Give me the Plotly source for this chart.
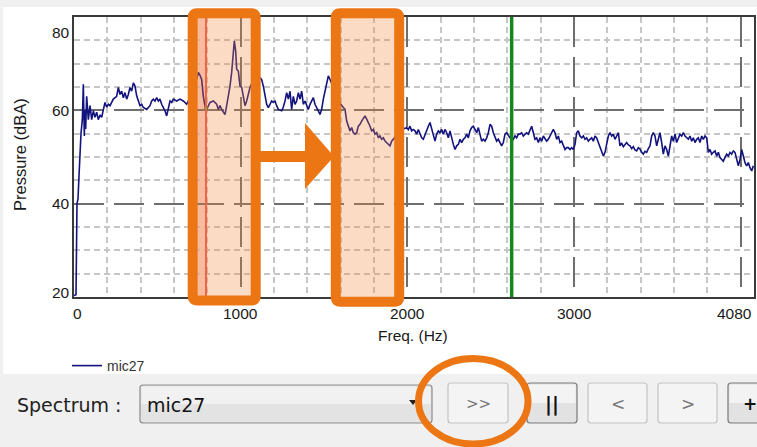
import numpy as np
import plotly.graph_objects as go

# ---------------- spectrum data (mic27) ----------------
freq_hz = [
    0, 12, 18, 24, 30, 36, 42, 50, 56, 62,
    66, 70, 76, 86, 96, 106, 116, 126, 136, 146,
    156, 166, 176, 186, 196, 206, 216, 226, 236, 256,
    266, 276, 286, 296, 306, 316, 326, 336, 346, 356,
    366, 376, 386, 396, 406, 416, 436, 456, 466, 476,
    486, 496, 506, 516, 526, 536, 546, 556, 566, 576,
    586, 596, 616, 636, 656, 676, 686, 706, 726, 746,
    756, 766, 776, 786, 796, 816, 836, 856, 866, 876,
    886, 906, 916, 926, 936, 946, 956, 962, 970, 976,
    986, 996, 1006, 1016, 1026, 1036, 1046, 1056, 1076, 1096,
    1116, 1126, 1136, 1146, 1156, 1166, 1176, 1186, 1196, 1206,
    1216, 1226, 1246, 1256, 1266, 1276, 1286, 1296, 1306, 1316,
    1326, 1336, 1346, 1356, 1366, 1376, 1386, 1396, 1406, 1416,
    1426, 1436, 1446, 1456, 1466, 1476, 1486, 1496, 1506, 1516,
    1526, 1536, 1556, 1576, 1596, 1616, 1626, 1636, 1646, 1656,
    1666, 1676, 1686, 1696, 1706, 1716, 1726, 1736, 1746, 1756,
    1766, 1776, 1786, 1796, 1806, 1816, 1826, 1836, 1846, 1856,
    1866, 1876, 1886, 1896, 1906, 1916, 1936, 1956, 1976, 1996,
] + list(range(2006, 4077, 10))  # regular 10 Hz bins above 2 kHz

level_dba = [
    20.3, 20.5, 40, 41, 46, 51, 55, 58, 65.6, 54.5,
    60, 56, 63, 58, 61, 58, 59.9, 58.5, 59.6, 58,
    59, 58.5, 60.2, 61.7, 60.7, 61.3, 61, 61.7, 62.4, 63,
    64.9, 63.4, 64.1, 62.7, 63.8, 62.4, 63.4, 64.9, 64.1, 65.9,
    65.2, 63.1, 62, 61, 61.3, 60.6, 60.2, 61, 62, 62.4,
    62, 62.7, 62, 62.4, 61.3, 60.7, 59.9, 58.8, 60.2, 62,
    61.7, 62.4, 62, 62.4, 62, 61.3, 62, 63, 65.5, 68.1,
    67.5, 66.6, 63, 61, 60.2, 61.7, 62, 61.3, 60.2, 61,
    60.2, 59.1, 61, 63, 65.2, 68.1, 73.1, 74.9, 72.7, 68.8,
    68.4, 65.2, 64.9, 62.4, 61, 62, 63.4, 64.9, 66.5, 65,
    67, 66.6, 65.2, 63, 61.3, 60.6, 61.3, 62, 61.7, 62,
    61, 60.2, 59.9, 60.7, 62, 63.8, 62.4, 64.1, 60.2, 63,
    61.3, 62, 63.8, 62.4, 64.1, 61.3, 62, 61, 60.2, 61.3,
    62, 62.7, 61.3, 60.7, 59.9, 59.1, 60.2, 62.4, 64.1, 65.9,
    67.4, 66.6, 65, 63, 61.5, 60.6, 60.2, 57.7, 56.6, 55.6,
    56.3, 55.2, 54.9, 55.2, 56.6, 57, 57.7, 58.4, 58.8, 58.1,
    57.4, 56.6, 55.6, 55.9, 54.9, 55.2, 54.1, 54.5, 53.8, 54.1,
    53.4, 53.1, 52.7, 52.4, 53.4, 53.8, 54.5, 55.5, 56, 56.3,
    55.9, 56.6, 55.6, 55.9, 55.6, 54.9, 55.9, 54.9, 54.1, 53.8,
    54.9, 55.9, 56.6, 57.4, 55.9, 54.5, 53.4, 54.9, 55.6, 55.2,
    55.9, 54.9, 55.9, 55.2, 54.1, 55.6, 53.8, 52.7, 51.6, 52.4,
    52.7, 53.8, 53.1, 53.8, 54.1, 54.9, 54.1, 55.6, 56.3, 56.6,
    55.9, 55.2, 56.3, 54.5, 53.4, 53.8, 53.4, 54.1, 55.2, 57,
    56.6, 55.2, 54.1, 53.4, 53.8, 53.1, 52.4, 53.1, 54.9, 55.2,
    54.5, 54.1, 54.0, 53.8, 54.5, 54.1, 54.9, 54.9, 55.2, 54.5,
    54.9, 55.2, 54.9, 55.6, 56.6, 55.2, 53.8, 54.1, 53.1, 54.1,
    53.4, 54.5, 53.8, 53.4, 53.8, 54.5, 55.2, 55.9, 55.2, 53.8,
    54.5, 53.1, 53.4, 52.4, 51.6, 52, 52, 51.6, 52, 51.6,
    52.7, 55.2, 55.6, 54.5, 54.1, 54.5, 53.8, 54.1, 53.4, 53.8,
    54.1, 53.4, 54.5, 54.1, 53.1, 52.4, 51, 50.2, 51, 53.1,
    54.5, 55.2, 54.5, 54.9, 53.8, 54.5, 55.2, 52.4, 53.0, 52.2,
    52.8, 53.1, 52.6, 52.4, 51.8, 52.2, 51.5, 51.3, 52.0, 51.7,
    51.0, 50.6, 51.2, 51.0, 51.8, 52.4, 54.5, 55.2, 54.5, 52.4,
    53.8, 55.2, 53.1, 50.6, 52.4, 51.6, 50.2, 52.4, 54.5, 53.4,
    54.9, 53.1, 54.1, 54.9, 54.5, 55.2, 54.5, 54.1, 53.8, 54.5,
    53.4, 54.1, 53.1, 53.8, 54.1, 53.1, 54.5, 53.8, 54.5, 54.1,
    51, 51.6, 50.6, 51, 51.3, 50.2, 51, 49.9, 49.5, 49.1,
    49.9, 50.6, 50.2, 51, 50.6, 51.3, 51, 49.5, 48.1, 49.5,
    51.6, 50.2, 48.8, 48.1, 48.8, 47.7, 47, 48.1,
]
assert len(freq_hz) == len(level_dba)

series_name = "mic27"
x_tick_vals = [0, 1000, 2000, 3000, 4080]
y_tick_vals = [20, 40, 60, 80]
x_range = [0, 4080]
y_range = [20, 80]

# cursors: selection band + red cursor, green play cursor
band_hz = [742, 792]
red_cursor_hz = 792
green_cursor_hz = 2626

# ---------------- geometry helpers (pixel -> paper) ----------------
W, H = 757, 447
ML, MR, MT, MB = 74, 3, 17, 150
PW, PH = W - ML - MR, H - MT - MB


def X(p):
    return (p - ML) / PW


def Y(p):
    return (H - MB - p) / PH


def rounded_path(x0, y0, x1, y1, r):
    pts = [
        ("M", [(x0 + r, y0)]),
        ("L", [(x1 - r, y0)]), ("Q", [(x1, y0), (x1, y0 + r)]),
        ("L", [(x1, y1 - r)]), ("Q", [(x1, y1), (x1 - r, y1)]),
        ("L", [(x0 + r, y1)]), ("Q", [(x0, y1), (x0, y1 - r)]),
        ("L", [(x0, y0 + r)]), ("Q", [(x0, y0), (x0 + r, y0)]),
    ]
    s = ""
    for cmd, ps in pts:
        s += cmd + " " + " ".join(f"{X(a):.5f},{Y(b):.5f}" for a, b in ps) + " "
    return s + "Z"


def poly_path(points):
    s = "M " + " L ".join(f"{X(a):.5f},{Y(b):.5f}" for a, b in points)
    return s + " Z"


ORANGE = "#eb7613"
PEACH = "rgba(242,135,55,0.30)"
NAVY = "#13137f"

fig = go.Figure()

fig.add_trace(go.Scatter(
    x=freq_hz, y=level_dba, mode="lines", name=series_name,
    line=dict(color=NAVY, width=1.6), showlegend=True,
))
fig.add_trace(go.Scatter(
    x=[red_cursor_hz], y=[float(np.interp(red_cursor_hz, freq_hz, level_dba))],
    mode="markers", marker=dict(color="#2a9a2a", size=4),
    showlegend=False, hoverinfo="skip",
))

shapes = []
annotations = []

# white chart panel over the grey window background
shapes.append(dict(type="rect", xref="paper", yref="paper",
                   x0=X(3), x1=X(757), y0=Y(374), y1=Y(7),
                   fillcolor="white", line=dict(width=0), layer="below"))

# selection band and cursors
shapes.append(dict(type="rect", xref="x", yref="paper", x0=band_hz[0], x1=band_hz[1],
                   y0=0, y1=1, fillcolor="rgba(245,105,85,0.30)", line=dict(width=0),
                   layer="below"))
shapes.append(dict(type="line", xref="x", yref="paper", x0=red_cursor_hz, x1=red_cursor_hz,
                   y0=0, y1=1, line=dict(color="#f0584a", width=2)))
shapes.append(dict(type="line", xref="x", yref="paper", x0=green_cursor_hz, x1=green_cursor_hz,
                   y0=0, y1=1, line=dict(color="#12891a", width=3.5)))

# highlight boxes and arrow
shapes.append(dict(type="path", xref="paper", yref="paper",
                   path=rounded_path(192.7, 13.3, 255.7, 300.5, 4),
                   fillcolor=PEACH, line=dict(color=ORANGE, width=10)))
shapes.append(dict(type="path", xref="paper", yref="paper",
                   path=rounded_path(335.8, 13.3, 399.2, 301.7, 4),
                   fillcolor=PEACH, line=dict(color=ORANGE, width=10)))
shapes.append(dict(type="path", xref="paper", yref="paper",
                   path=poly_path([(258, 151), (305, 151), (305, 123), (334, 156.5),
                                   (305, 189), (305, 162), (258, 162)]),
                   fillcolor=ORANGE, line=dict(width=0)))

# ---------------- bottom control bar ----------------
def button(x0, x1, y0, y1, label, dark, fsize, fcolor, bold=False):
    border = "#7a7a7a" if dark else "#c3c3c3"
    if dark:
        shapes.append(dict(type="path", xref="paper", yref="paper",
                           path=rounded_path(x0, y0, x1, y1, 3),
                           fillcolor="#e2e2e2", line=dict(color=border, width=1.2)))
        shapes.append(dict(type="rect", xref="paper", yref="paper",
                           x0=X(x0 + 1.5), x1=X(x1 - 1.5), y0=Y((y0 + y1) / 2), y1=Y(y0 + 1.5),
                           fillcolor="#f3f3f3", line=dict(width=0)))
    else:
        shapes.append(dict(type="path", xref="paper", yref="paper",
                           path=rounded_path(x0, y0, x1, y1, 3),
                           fillcolor="#f4f4f4", line=dict(color=border, width=1.2)))
    text = f"<b>{label}</b>" if bold else label
    annotations.append(dict(xref="paper", yref="paper", x=X((x0 + x1) / 2), y=Y((y0 + y1) / 2 + 1),
                            text=text, showarrow=False, xanchor="center", yanchor="middle",
                            font=dict(family="DejaVu Sans", size=fsize, color=fcolor)))


# dropdown
shapes.append(dict(type="path", xref="paper", yref="paper",
                   path=rounded_path(140, 385, 432, 423, 3),
                   fillcolor="#e3e3e3", line=dict(color="#8c8c8c", width=1.2)))
shapes.append(dict(type="rect", xref="paper", yref="paper",
                   x0=X(141.5), x1=X(430.5), y0=Y(404), y1=Y(386.5),
                   fillcolor="#f1f1f1", line=dict(width=0)))
shapes.append(dict(type="path", xref="paper", yref="paper",
                   path=poly_path([(409, 400), (417, 400), (413, 405)]),
                   fillcolor="#222222", line=dict(width=0)))
annotations.append(dict(xref="paper", yref="paper", x=X(145), y=Y(405), text=series_name,
                        showarrow=False, xanchor="left", yanchor="middle",
                        font=dict(family="DejaVu Sans", size=19, color="#111111")))
annotations.append(dict(xref="paper", yref="paper", x=X(15), y=Y(405), text="Spectrum :",
                        showarrow=False, xanchor="left", yanchor="middle",
                        font=dict(family="DejaVu Sans", size=19, color="#222222")))

button(448, 508, 383, 423, "&gt;&gt;", False, 15, "#777777")
button(527, 577, 383, 423, "||", True, 19, "#111111", bold=True)
button(588, 647, 383, 423, "&lt;", False, 17, "#777777")
button(658, 717, 383, 423, "&gt;", False, 17, "#777777")
button(728, 772, 383, 423, "+", True, 17, "#111111", bold=True)

# circle around the fast-forward button
shapes.append(dict(type="circle", xref="paper", yref="paper",
                   x0=X(418.5), x1=X(528), y0=Y(444), y1=Y(358.5),
                   line=dict(color=ORANGE, width=7), fillcolor="rgba(0,0,0,0)"))

# ---------------- axis labels ----------------
tick_font = dict(family="Liberation Sans", size=15.5, color="#1a1a1a")
for v in x_tick_vals:
    shift = 3 if v == x_tick_vals[0] else 0
    anchor = "right" if v == x_tick_vals[-1] else "center"
    annotations.append(dict(xref="x", yref="paper", x=v, y=Y(313), text=str(v),
                            showarrow=False, xanchor=anchor, yanchor="middle",
                            xshift=shift if anchor == "center" else 0, font=tick_font))
for v in y_tick_vals:
    ys = -15 if v == y_range[1] else (5 if v == y_range[0] else 0)
    annotations.append(dict(xref="paper", yref="y", x=0, y=v, text=str(v),
                            showarrow=False, xanchor="right", yanchor="middle",
                            xshift=-2, yshift=ys, font=tick_font))

annotations.append(dict(xref="paper", yref="paper", x=X(413), y=Y(335), text="Freq. (Hz)",
                        showarrow=False, xanchor="center", yanchor="middle",
                        font=dict(family="Liberation Sans", size=15.5, color="#1a1a1a")))
annotations.append(dict(xref="paper", yref="paper", x=X(20), y=Y(155), text="Pressure (dBA)",
                        showarrow=False, xanchor="center", yanchor="middle", textangle=-90,
                        font=dict(family="Liberation Sans", size=16.5, color="#1a1a1a")))

axis_common = dict(showline=True, mirror=True, linecolor="#3a3a3a", linewidth=2,
                   ticks="", showticklabels=False, zeroline=False, fixedrange=True)

fig.update_layout(
    width=W, height=H,
    margin=dict(l=ML, r=MR, t=MT, b=MB, autoexpand=False),
    paper_bgcolor="#f0f0f0", plot_bgcolor="white",
    xaxis=dict(range=x_range, tick0=0, dtick=1000, showgrid=True,
               gridcolor="#6e6e6e", gridwidth=2, griddash="30px,10px",
               minor=dict(dtick=200, tick0=0, showgrid=True, gridcolor="#c6c6c6",
                          gridwidth=1.5, griddash="6px,4px"),
               **axis_common),
    yaxis=dict(range=y_range, tick0=20, dtick=20, showgrid=True,
               gridcolor="#6e6e6e", gridwidth=2, griddash="30px,10px",
               minor=dict(dtick=5, tick0=20, showgrid=True, gridcolor="#c6c6c6",
                          gridwidth=1.5, griddash="6px,4px"),
               **axis_common),
    showlegend=True,
    legend=dict(x=X(67), y=Y(350), xanchor="left", yanchor="top",
                bgcolor="rgba(0,0,0,0)", itemwidth=30,
                font=dict(family="Liberation Sans", size=14, color="#333333")),
    shapes=shapes, annotations=annotations,
)

fig.write_html("out.html")
